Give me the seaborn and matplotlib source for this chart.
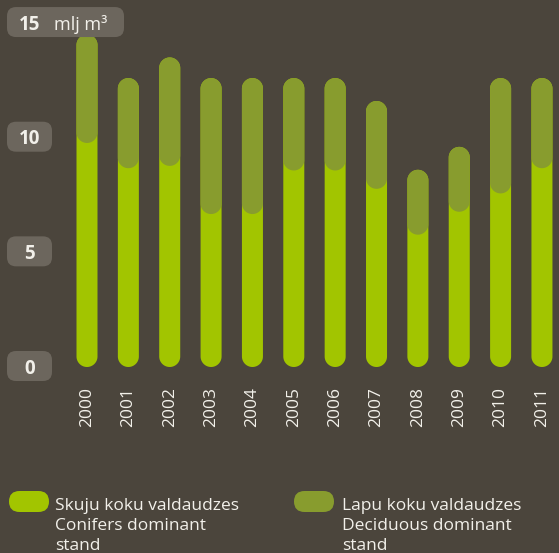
import numpy as np
import pandas as pd
import matplotlib
matplotlib.use("Agg")
import matplotlib.pyplot as plt
import seaborn as sns
from matplotlib.patches import Polygon, FancyBboxPatch
from matplotlib import transforms

# ---------------- data ----------------
years = ["2000", "2001", "2002", "2003", "2004", "2005",
         "2006", "2007", "2008", "2009", "2010", "2011"]
conifers = [10.0, 8.9, 9.0, 6.9, 6.9, 8.8, 8.8, 8.0, 6.0, 7.0, 7.8, 8.9]
deciduous = [4.5, 3.7, 4.5, 5.7, 5.7, 3.8, 3.8, 3.6, 2.6, 2.6, 4.8, 3.7]
y_ticks = [0, 5, 10, 15]
unit_label = "mlj m³"
legend_conifers = ["Skuju koku valdaudzes", "Conifers dominant", "stand"]
legend_deciduous = ["Lapu koku valdaudzes", "Deciduous dominant", "stand"]

# ---------------- style ----------------
BG = "#4b453c"
GREEN = "#a2c500"
OLIVE = "#889c2e"
BOX = "#6c665d"
TXT = "#f2f0ea"

sns.set_theme(style="white")
plt.rcParams["font.family"] = ["Open Sans", "DejaVu Sans"]

W, H = 559, 553
fig = plt.figure(figsize=(W / 100, H / 100), dpi=100, facecolor=BG)
ZERO_PX = 367      # px from top where value 0 sits
PX_PER_Y = 22.93
PX_PER_X = 41.36
X0_PX = 87         # px of first bar centre
BAR_W = 0.508

ax = fig.add_axes([0, 1 - ZERO_PX / H, 1, ZERO_PX / H])
ax.set_facecolor(BG)

totals = [c + d for c, d in zip(conifers, deciduous)]
df = pd.DataFrame({"year": years, "conifers": conifers, "total": totals})

sns.barplot(data=df, x="year", y="total", color=GREEN, width=BAR_W,
            saturation=1, errorbar=None, ax=ax)
n = len(ax.patches)
sns.barplot(data=df, x="year", y="total", color=OLIVE, width=BAR_W,
            saturation=1, errorbar=None, ax=ax)

ax.set_xlim(-X0_PX / PX_PER_X, (W - X0_PX) / PX_PER_X)
ax.set_ylim(0, ZERO_PX / PX_PER_Y)


def capsule(x0, w, y0, y1):
    r = w / 2
    ry = r * PX_PER_X / PX_PER_Y
    xc = x0 + r
    t = np.linspace(0, np.pi, 60)
    top = np.column_stack([xc + r * np.cos(t), (y1 - ry) + ry * np.sin(t)])
    bot = np.column_stack([xc - r * np.cos(t), (y0 + ry) - ry * np.sin(t)])
    return np.vstack([top, bot]), ry


patches = list(ax.patches)
for i, p in enumerate(patches):
    x0, w, h = p.get_x(), p.get_width(), p.get_height()
    if i < n:
        pts, ry = capsule(x0, w, 0, h)
        col, z = GREEN, 2
    else:
        c = conifers[i - n]
        _, ry = capsule(x0, w, 0, h)
        pts, _ = capsule(x0, w, c - ry / 2, h)
        col, z = OLIVE, 3
    p.remove()
    ax.add_patch(Polygon(pts, closed=True, facecolor=col, edgecolor="none",
                         zorder=z, clip_on=False))

for s in ax.spines.values():
    s.set_visible(False)
ax.set_yticks([])
ax.set_xlabel("")
ax.set_ylabel("")
ax.tick_params(axis="x", length=0, pad=14.4, labelsize=12.5,
               colors=TXT, labelrotation=90)

# pixel transform (origin bottom-left)
pxT = transforms.Affine2D().scale(1 / 100) + fig.dpi_scale_trans

for v in y_ticks:
    yc = ax.transData.transform((0, v))[1] + 1
    bw = 117 if v == y_ticks[-1] else 45
    fig.add_artist(FancyBboxPatch((7, yc - 15), bw, 30,
                                  boxstyle="round,pad=0,rounding_size=9",
                                  transform=pxT, facecolor=BOX,
                                  edgecolor="none"))
    fig.text(29.5, yc, str(v), transform=pxT, ha="center",
             va="center_baseline", fontsize=13.5, fontweight="bold", color=TXT)
    if v == y_ticks[-1]:
        fig.text(54, yc, unit_label, transform=pxT, ha="left",
                 va="center_baseline", fontsize=13, color=TXT)

# legend
for (ix, tx, col, lines) in [(9, 55, GREEN, legend_conifers),
                             (294, 342, OLIVE, legend_deciduous)]:
    fig.add_artist(FancyBboxPatch((ix, H - 512), 40, 21,
                                  boxstyle="round,pad=0,rounding_size=10.5",
                                  transform=pxT, facecolor=col,
                                  edgecolor="none"))
    for k, line in enumerate(lines):
        fig.text(tx, H - (510 + 20 * k), line, transform=pxT, ha="left",
                 va="baseline", fontsize=12.5, color=TXT)

fig.savefig("out.png", dpi=100, facecolor=BG)
